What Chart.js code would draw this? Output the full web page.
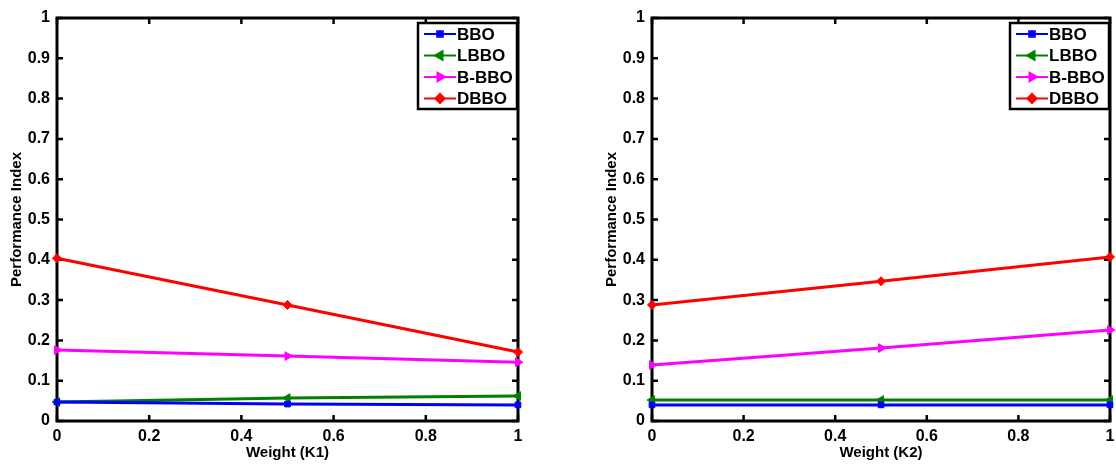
<!DOCTYPE html>
<html>
<head>
<meta charset="utf-8">
<script src="https://cdn.jsdelivr.net/npm/chart.js@4"></script>
<style>
  html, body { margin: 0; padding: 0; background: #fff; }
  .wrap { position: absolute; top: 0; width: 558px; height: 466px; }
</style>
</head>
<body>
<div class="wrap" style="left:0"><canvas id="chartK1" width="558" height="466"></canvas></div>
<div class="wrap" style="left:558px"><canvas id="chartK2" width="558" height="466"></canvas></div>
<script>
// weights on the x axis
const weights = [0, 0.5, 1];
const seriesNames = ['BBO', 'LBBO', 'B-BBO', 'DBBO'];

// Performance index vs Weight (K1)
const k1BBO   = [0.047, 0.042, 0.040];
const k1LBBO  = [0.047, 0.057, 0.062];
const k1BBBO  = [0.176, 0.161, 0.146];
const k1DBBO  = [0.404, 0.288, 0.171];

// Performance index vs Weight (K2)
const k2BBO   = [0.040, 0.040, 0.040];
const k2LBBO  = [0.052, 0.052, 0.052];
const k2BBBO  = [0.139, 0.181, 0.226];
const k2DBBO  = [0.288, 0.347, 0.407];

const COLORS = ['#0000ff', '#008000', '#ff00ff', '#ff0000'];
const MARKERS = [
    { style: 'rect', rotation: 0, radius: 4 },
    { style: 'triangle', rotation: -90, radius: 5 },
    { style: 'triangle', rotation: 90, radius: 5 },
    { style: 'rectRot', rotation: 0, radius: 4.5 }
];
const FONT = "'Liberation Sans', Arial, sans-serif";

function fmtTick(v) {
    if (v === 0 || v === 1) return String(v);
    return v.toFixed(1);
}

function makeDatasets(values) {
    return values.map((vals, i) => ({
        label: seriesNames[i],
        data: weights.map((w, j) => ({ x: w, y: vals[j] })),
        borderColor: COLORS[i],
        backgroundColor: COLORS[i],
        borderWidth: 3,
        pointStyle: MARKERS[i].style,
        rotation: MARKERS[i].rotation,
        pointRadius: MARKERS[i].radius,
        pointBorderWidth: 1,
        tension: 0,
        clip: false
    }));
}

// MATLAB-like box with inward ticks
const framePlugin = {
    id: 'frame',
    beforeDatasetsDraw(chart) {
        const { ctx, chartArea: a, scales } = chart;
        ctx.save();
        ctx.strokeStyle = '#000';
        ctx.lineWidth = 3;
        ctx.strokeRect(a.left, a.top, a.right - a.left, a.bottom - a.top);
        ctx.lineWidth = 2.5;
        ctx.beginPath();
        scales.y.ticks.forEach(t => {
            const y = scales.y.getPixelForValue(t.value);
            ctx.moveTo(a.left, y); ctx.lineTo(a.left + 6, y);
            ctx.moveTo(a.right, y); ctx.lineTo(a.right - 6, y);
        });
        scales.x.ticks.forEach(t => {
            const x = scales.x.getPixelForValue(t.value);
            ctx.moveTo(x, a.bottom); ctx.lineTo(x, a.bottom - 6);
            ctx.moveTo(x, a.top); ctx.lineTo(x, a.top + 6);
        });
        ctx.stroke();
        ctx.restore();
    },
    afterDraw(chart) {
        // boxed legend in the top right corner of the plot
        const { ctx, chartArea: a } = chart;
        const w = 99, h = 86;
        const x0 = a.right - w - 1, y0 = a.top + 5;
        ctx.save();
        ctx.fillStyle = '#fff';
        ctx.fillRect(x0, y0, w, h);
        ctx.strokeStyle = '#000';
        ctx.lineWidth = 2.5;
        ctx.strokeRect(x0, y0, w, h);
        ctx.font = 'bold 17px ' + FONT;
        ctx.textBaseline = 'middle';
        chart.data.datasets.forEach((ds, i) => {
            const y = y0 + 11 + i * 21.5;
            ctx.strokeStyle = ds.borderColor;
            ctx.lineWidth = 2;
            ctx.beginPath();
            ctx.moveTo(x0 + 6, y); ctx.lineTo(x0 + 38, y);
            ctx.stroke();
            ctx.fillStyle = ds.borderColor;
            Chart.helpers.drawPoint(ctx, {
                pointStyle: ds.pointStyle, rotation: ds.rotation,
                radius: ds.pointRadius, borderWidth: 1
            }, x0 + 22, y);
            ctx.fillStyle = '#000';
            ctx.fillText(ds.label, x0 + 39, y + 1);
        });
        ctx.restore();
    }
};

function buildChart(canvasId, xTitle, values, padLeft, padRight) {
    const ctx = document.getElementById(canvasId).getContext('2d');
    return new Chart(ctx, {
        type: 'line',
        data: { datasets: makeDatasets(values) },
        options: {
            responsive: false,
            animation: false,
            layout: { padding: { left: padLeft, right: padRight, top: 18, bottom: 0 } },
            plugins: { legend: { display: false }, tooltip: { enabled: false } },
            scales: {
                x: {
                    type: 'linear', min: 0, max: 1,
                    ticks: { stepSize: 0.2, color: '#000', padding: 6, callback: fmtTick,
                             font: { family: FONT, size: 16, weight: 'bold' } },
                    grid: { display: false, drawTicks: false, tickLength: 0 },
                    border: { display: false },
                    title: { display: true, text: xTitle, color: '#000', padding: { top: 0, bottom: 4 },
                             font: { family: FONT, size: 15, weight: 'bold' } },
                    afterFit(scale) {
                        scale.height = 45;
                        scale.paddingLeft = 0;
                        scale.paddingRight = 0;
                    }
                },
                y: {
                    min: 0, max: 1,
                    ticks: { stepSize: 0.1, color: '#000', padding: 7, callback: fmtTick,
                             font: { family: FONT, size: 16, weight: 'bold' } },
                    grid: { display: false, drawTicks: false, tickLength: 0 },
                    border: { display: false },
                    title: { display: true, text: 'Performance Index', color: '#000', padding: { top: 8, bottom: 0 },
                             font: { family: FONT, size: 15, weight: 'bold' } },
                    afterFit(scale) {
                        scale.width = 57;
                        scale.paddingTop = 0;
                        scale.paddingBottom = 0;
                    }
                }
            }
        },
        plugins: [framePlugin]
    });
}

buildChart('chartK1', 'Weight (K1)', [k1BBO, k1LBBO, k1BBBO, k1DBBO], 0, 40);
buildChart('chartK2', 'Weight (K2)', [k2BBO, k2LBBO, k2BBBO, k2DBBO], 37, 4);
</script>
</body>
</html>
